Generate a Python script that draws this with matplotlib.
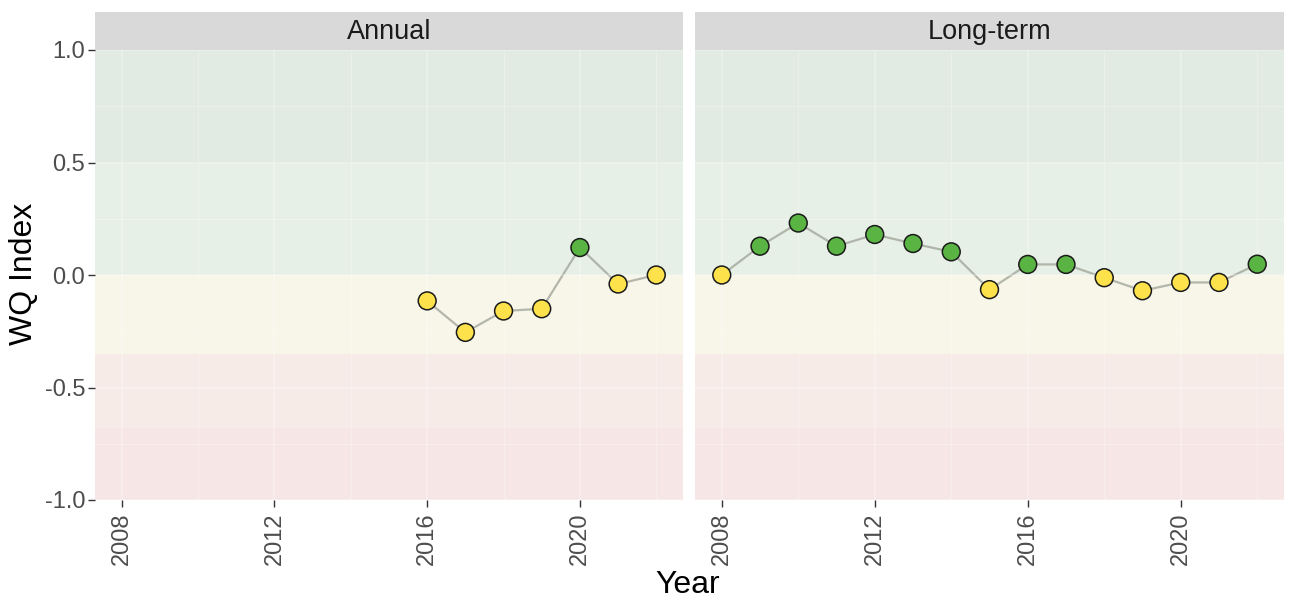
import numpy as np
import matplotlib
matplotlib.use("Agg")
import matplotlib.pyplot as plt
from matplotlib.ticker import MultipleLocator

plt.rcParams["font.family"] = ["Liberation Sans", "DejaVu Sans"]

years_annual = [2016, 2017, 2018, 2019, 2020, 2021, 2022]
wq_annual = [-0.115, -0.255, -0.16, -0.15, 0.122, -0.04, 0.0]

years_long = list(range(2008, 2023))
wq_long = [0.0, 0.128, 0.231, 0.128, 0.18, 0.14, 0.103, -0.065, 0.047, 0.047,
           -0.012, -0.07, -0.033, -0.033, 0.048]

panels = ["Annual", "Long-term"]

# score bands (lower, upper, colour)
band_lo = [0.5, 0.0, -0.35, -0.68, -1.0]
band_hi = [1.0, 0.5, 0.0, -0.35, -0.68]
band_col = ["#E1EBE3", "#E6F0E6", "#F7F6E9", "#F7EBE8", "#F6E6E6"]

GREEN, YELLOW = "#5AB443", "#FDE24B"

W, H = 1290, 602
fig = plt.figure(figsize=(W / 100, H / 100), dpi=100)

boxes = [(95, 683), (695, 1284)]
top, bot = 50, 500
strip_top = 12

for (x0, x1), name, xs, ys in zip(boxes, panels, [years_annual, years_long], [wq_annual, wq_long]):
    ax = fig.add_axes([x0 / W, 1 - bot / H, (x1 - x0) / W, (bot - top) / H])
    ax.set_xlim(2008 - 0.7, 2022 + 0.7)
    ax.set_ylim(-1, 1)
    ax.set_facecolor("white")
    for lo, hi, c in zip(band_lo, band_hi, band_col):
        ax.axhspan(lo, hi, color=c, lw=0, zorder=0)
    ax.xaxis.set_major_locator(MultipleLocator(4))
    ax.xaxis.set_minor_locator(MultipleLocator(2))
    ax.yaxis.set_major_locator(MultipleLocator(0.5))
    ax.yaxis.set_minor_locator(MultipleLocator(0.25))
    ax.grid(which="major", color="white", lw=1.1, alpha=0.35, zorder=1)
    ax.grid(which="minor", color="white", lw=0.6, alpha=0.35, zorder=1)
    ax.set_axisbelow(False)
    for s in ax.spines.values():
        s.set_visible(False)
    ax.tick_params(which="minor", length=0)
    ax.tick_params(which="major", length=5, width=1, color="#333333", pad=2,
                   labelsize=17, labelcolor="#4D4D4D")
    ax.tick_params(axis="x", labelrotation=90, pad=4)
    ax.set_xticks([2008, 2012, 2016, 2020])
    ax.set_xticks([2010, 2014, 2018, 2022], minor=True)
    ax.set_yticks([-1, -0.5, 0, 0.5, 1])
    ax.set_yticklabels(["-1.0", "-0.5", "0.0", "0.5", "1.0"])
    if name != "Annual":
        ax.tick_params(axis="y", left=False, labelleft=False)

    ax.plot(xs, ys, color="#A3A79C", lw=1.6, alpha=0.8, zorder=2)
    cols = [GREEN if v > 0 else YELLOW for v in ys]
    ax.scatter(xs, ys, s=165, c=cols, edgecolors="#1A1A1A", linewidths=1.1, zorder=3)

    # facet strip
    sax = fig.add_axes([x0 / W, 1 - top / H, (x1 - x0) / W, (top - strip_top) / H])
    sax.set_facecolor("#D9D9D9")
    sax.set_xticks([]); sax.set_yticks([])
    for s in sax.spines.values():
        s.set_visible(False)
    sax.text(0.5, 0.48, name, ha="center", va="center", fontsize=19.5, color="#1A1A1A",
             transform=sax.transAxes)

fig.text(24 / W, 1 - 274 / H, "WQ Index", rotation=90, ha="center", va="center", fontsize=23)
fig.text(688 / W, 1 - 585 / H, "Year", ha="center", va="center", fontsize=23)

fig.savefig("out.png", dpi=100)
